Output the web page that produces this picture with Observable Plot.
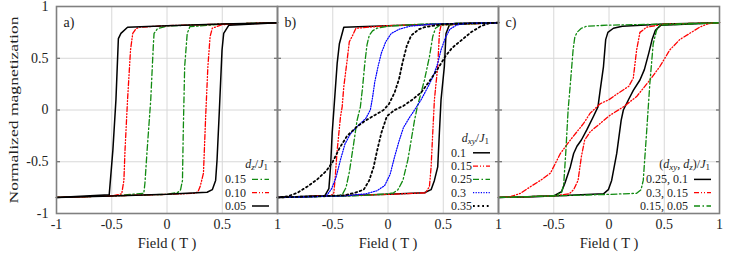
<!DOCTYPE html>
<html><head><meta charset="utf-8">
<script src="https://cdn.jsdelivr.net/npm/d3@7"></script>
<script src="https://cdn.jsdelivr.net/npm/@observablehq/plot@0.6"></script>
<style>
body{margin:0;background:#fff}
</style></head><body><div id="chart"></div>
<script>
// ---------- data (field H in T, normalized magnetization M) ----------
const panels = ["a", "b", "c"];
const panelLabels = ["a)", "b)", "c)"];
const xTicksFirst = [-1, -0.5, 0, 0.5, 1];
const xTickLabelsFirst = ["-1", "-0.5", "0", "0.5", "1"];
const xTicksOther = [-0.5, 0, 0.5, 1];
const xTickLabelsOther = ["-0.5", "0", "0.5", "1"];
const yTicks = [-1, -0.5, 0, 0.5, 1];
const yTickLabels = ["-1", "-0.5", "0", "0.5", "1"];
const xLabel = "Field ( T )";
const yLabel = "Normalized magnetization";

// panel a) : d_z / J_1
const legendA = ["0.15", "0.10", "0.05"];
const aGreenDown = [[1,0.843],[0.5,0.83],[0,0.812],[-0.087,0.785],[-0.117,0.74],[-0.123,0.64],[-0.147,0.10],[-0.18,-0.39],[-0.20,-0.71],[-0.21,-0.805],[-0.5,-0.83],[-1,-0.845]];
const aGreenUp   = [[-1,-0.845],[-0.5,-0.83],[0,-0.815],[0.1,-0.795],[0.123,-0.77],[0.14,-0.68],[0.147,-0.22],[0.16,0.42],[0.183,0.74],[0.207,0.805],[0.5,0.83],[1,0.843]];
const aRedDown   = [[1,0.843],[0.5,0.83],[0,0.815],[-0.25,0.80],[-0.28,0.785],[-0.31,0.74],[-0.33,0.58],[-0.357,0.10],[-0.38,-0.39],[-0.39,-0.68],[-0.41,-0.81],[-0.5,-0.83],[-1,-0.845]];
const aRedUp     = [[-1,-0.845],[-0.5,-0.83],[0,-0.815],[0.25,-0.805],[0.28,-0.79],[0.30,-0.74],[0.33,-0.61],[0.35,-0.06],[0.37,0.42],[0.39,0.71],[0.41,0.79],[0.5,0.825],[1,0.843]];
const aBlackDown = [[1,0.843],[0.5,0.83],[0,0.815],[-0.357,0.80],[-0.417,0.74],[-0.44,0.69],[-0.462,0.10],[-0.49,-0.39],[-0.523,-0.82],[-1,-0.845]];
const aBlackUp   = [[-1,-0.845],[-0.5,-0.83],[0,-0.815],[0.363,-0.795],[0.41,-0.77],[0.44,-0.68],[0.453,-0.48],[0.474,0],[0.498,0.58],[0.513,0.74],[0.56,0.82],[1,0.843]];

// panel b) : d_xy / J_1
const legendB = ["0.1", "0.15", "0.25", "0.3", "0.35"];
const bBlackDown = [[1,0.843],[0.5,0.83],[0,0.815],[-0.40,0.80],[-0.44,0.64],[-0.46,0.45],[-0.49,0.0],[-0.505,-0.22],[-0.52,-0.55],[-0.535,-0.76],[-0.57,-0.825],[-1,-0.845]];
const bBlackUp   = [[-1,-0.845],[-0.5,-0.83],[0,-0.815],[0.33,-0.80],[0.39,-0.77],[0.42,-0.68],[0.45,-0.55],[0.465,-0.22],[0.48,0.1],[0.51,0.42],[0.525,0.74],[0.555,0.82],[0.6,0.835],[1,0.843]];
const bRedDown   = [[1,0.843],[0.5,0.83],[0,0.815],[-0.29,0.79],[-0.325,0.71],[-0.35,0.66],[-0.37,0.48],[-0.40,0.225],[-0.415,0.03],[-0.43,-0.065],[-0.46,-0.39],[-0.48,-0.68],[-0.49,-0.80],[-0.52,-0.83],[-1,-0.845]];
const bRedUp     = [[-1,-0.845],[-0.5,-0.83],[0,-0.815],[0.34,-0.80],[0.375,-0.74],[0.39,-0.55],[0.405,-0.22],[0.42,0.1],[0.45,0.42],[0.465,0.74],[0.48,0.82],[1,0.843]];
const bGreenDown = [[1,0.843],[0.3,0.83],[0,0.81],[-0.1,0.79],[-0.14,0.765],[-0.17,0.72],[-0.19,0.63],[-0.21,0.45],[-0.23,0.22],[-0.25,0.03],[-0.28,-0.1],[-0.31,-0.32],[-0.35,-0.6],[-0.38,-0.75],[-0.41,-0.81],[-0.45,-0.83],[-1,-0.845]];
const bGreenUp   = [[-1,-0.845],[-0.3,-0.83],[0,-0.81],[0.05,-0.8],[0.09,-0.77],[0.135,-0.68],[0.18,-0.48],[0.21,-0.29],[0.24,-0.1],[0.265,0.03],[0.29,0.13],[0.33,0.29],[0.375,0.515],[0.405,0.71],[0.43,0.79],[0.47,0.82],[1,0.843]];
const bBlueDown  = [[1,0.843],[0.4,0.83],[0.2,0.81],[0.1,0.78],[0.03,0.74],[-0.02,0.66],[-0.06,0.55],[-0.09,0.42],[-0.12,0.27],[-0.14,0.12],[-0.16,0.0],[-0.2,-0.08],[-0.27,-0.15],[-0.34,-0.23],[-0.39,-0.33],[-0.43,-0.48],[-0.47,-0.65],[-0.51,-0.76],[-0.55,-0.82],[-0.6,-0.835],[-1,-0.845]];
const bBlueUp    = [[-1,-0.845],[-0.4,-0.83],[-0.2,-0.81],[-0.1,-0.78],[-0.03,-0.73],[0.02,-0.62],[0.06,-0.45],[0.1,-0.3],[0.14,-0.17],[0.19,-0.08],[0.24,0.0],[0.3,0.1],[0.36,0.22],[0.41,0.33],[0.45,0.45],[0.48,0.58],[0.52,0.7],[0.56,0.78],[0.62,0.82],[0.7,0.835],[1,0.843]];
const bDotDown   = [[1,0.843],[0.5,0.83],[0.33,0.80],[0.28,0.78],[0.21,0.72],[0.17,0.62],[0.13,0.45],[0.1,0.3],[0.06,0.17],[0.01,0.06],[-0.04,0.0],[-0.12,-0.05],[-0.2,-0.1],[-0.28,-0.16],[-0.37,-0.25],[-0.44,-0.37],[-0.5,-0.5],[-0.56,-0.59],[-0.64,-0.67],[-0.73,-0.74],[-0.82,-0.80],[-0.91,-0.835],[-1,-0.845]];
const bDotUp     = [[-1,-0.845],[-0.4,-0.825],[-0.3,-0.80],[-0.22,-0.77],[-0.17,-0.68],[-0.13,-0.55],[-0.1,-0.4],[-0.06,-0.22],[-0.01,-0.06],[0.06,0.0],[0.14,0.04],[0.22,0.1],[0.3,0.17],[0.37,0.27],[0.44,0.38],[0.52,0.52],[0.58,0.6],[0.66,0.67],[0.75,0.75],[0.84,0.81],[0.92,0.84],[1,0.845]];

// panel c) : (d_xy, d_z) / J_1
const legendC = ["0.25, 0.1", "0.3, 0.15", "0.15, 0.05"];
const cBlackDown = [[1,0.843],[0.5,0.83],[0.12,0.81],[0.04,0.79],[-0.01,0.75],[-0.03,0.68],[-0.05,0.42],[-0.08,0.19],[-0.1,0.03],[-0.14,-0.06],[-0.2,-0.19],[-0.25,-0.29],[-0.29,-0.35],[-0.32,-0.42],[-0.35,-0.55],[-0.40,-0.71],[-0.43,-0.79],[-0.5,-0.83],[-1,-0.845]];
const cBlackUp   = [[-1,-0.845],[-0.5,-0.83],[-0.05,-0.81],[-0.006,-0.77],[0.024,-0.68],[0.07,-0.42],[0.11,-0.1],[0.13,0.0],[0.175,0.097],[0.22,0.19],[0.28,0.29],[0.32,0.39],[0.36,0.55],[0.39,0.68],[0.42,0.77],[0.47,0.82],[1,0.843]];
const cRedDown   = [[1,0.843],[0.5,0.83],[0.34,0.80],[0.28,0.75],[0.25,0.58],[0.22,0.31],[0.18,0.23],[0.08,0.16],[0,0.1],[-0.08,0.06],[-0.17,-0.03],[-0.23,-0.13],[-0.35,-0.29],[-0.44,-0.42],[-0.53,-0.61],[-0.62,-0.68],[-0.71,-0.74],[-0.80,-0.805],[-0.9,-0.84],[-1,-0.845]];
const cRedUp     = [[-1,-0.845],[-0.5,-0.83],[-0.36,-0.81],[-0.32,-0.77],[-0.28,-0.68],[-0.25,-0.45],[-0.22,-0.29],[-0.17,-0.21],[-0.08,-0.13],[0.01,-0.05],[0.13,0.03],[0.25,0.13],[0.37,0.29],[0.46,0.42],[0.55,0.58],[0.64,0.68],[0.73,0.74],[0.82,0.80],[0.9,0.835],[1,0.843]];
const cGreenDown = [[1,0.843],[0.5,0.83],[0,0.82],[-0.2,0.81],[-0.25,0.79],[-0.29,0.75],[-0.31,0.70],[-0.325,0.58],[-0.35,0.25],[-0.37,0.0],[-0.39,-0.39],[-0.41,-0.72],[-0.43,-0.80],[-0.5,-0.83],[-1,-0.845]];
const cGreenUp   = [[-1,-0.845],[-0.5,-0.83],[0,-0.815],[0.25,-0.805],[0.29,-0.77],[0.31,-0.68],[0.34,-0.22],[0.37,0.26],[0.40,0.64],[0.43,0.77],[0.46,0.82],[1,0.843]];

// ---------- styles ----------
const styles = {
  solid:      {stroke: "#000000", strokeWidth: 1.5},
  dashDotDot: {stroke: "#ff0000", strokeWidth: 1.3, strokeDasharray: "5,2,1,2,1,2"},
  dashDot:    {stroke: "#108a10", strokeWidth: 1.3, strokeDasharray: "6,2.5,1.5,2.5"},
  fineDot:    {stroke: "#0000ff", strokeWidth: 1.2, strokeDasharray: "1.2,1.4"},
  coarseDot:  {stroke: "#000000", strokeWidth: 1.8, strokeDasharray: "1.8,2.8"}
};

const curves = [
  {panel: "a", label: legendA[0], style: "dashDot",    down: aGreenDown, up: aGreenUp},
  {panel: "a", label: legendA[1], style: "dashDotDot", down: aRedDown,   up: aRedUp},
  {panel: "a", label: legendA[2], style: "solid",      down: aBlackDown, up: aBlackUp},
  {panel: "b", label: legendB[0], style: "solid",      down: bBlackDown, up: bBlackUp},
  {panel: "b", label: legendB[1], style: "dashDotDot", down: bRedDown,   up: bRedUp},
  {panel: "b", label: legendB[2], style: "dashDot",    down: bGreenDown, up: bGreenUp},
  {panel: "b", label: legendB[3], style: "fineDot",    down: bBlueDown,  up: bBlueUp},
  {panel: "b", label: legendB[4], style: "coarseDot",  down: bDotDown,   up: bDotUp},
  {panel: "c", label: legendC[0], style: "solid",      down: cBlackDown, up: cBlackUp},
  {panel: "c", label: legendC[1], style: "dashDotDot", down: cRedDown,   up: cRedUp},
  {panel: "c", label: legendC[2], style: "dashDot",    down: cGreenDown, up: cGreenUp}
];

const legendTitles = {
  a: [{t: "d", i: 1}, {t: "z", i: 1, s: 1}, {t: "/"}, {t: "J", i: 1}, {t: "1", s: 1}],
  b: [{t: "d", i: 1}, {t: "xy", i: 1, s: 1}, {t: "/"}, {t: "J", i: 1}, {t: "1", s: 1}],
  c: [{t: "("}, {t: "d", i: 1}, {t: "xy", i: 1, s: 1}, {t: ", "}, {t: "d", i: 1}, {t: "z", i: 1, s: 1}, {t: ")/"}, {t: "J", i: 1}, {t: "1", s: 1}]
};

// ---------- tables ----------
const rows = curves.flatMap(c => [["down", c.down], ["up", c.up]].flatMap(([branch, pts]) =>
  pts.map(([h, m]) => ({panel: c.panel, label: c.label, branch, h, m}))));
const panelRows = panels.map((p, i) => ({panel: p, label: panelLabels[i]}));
const xTickRows = panels.flatMap(p => (p === "a" ? xTicksFirst : xTicksOther).map((v, i) =>
  ({panel: p, v, label: (p === "a" ? xTickLabelsFirst : xTickLabelsOther)[i]})));
const yTickRows = yTicks.map((v, i) => ({panel: "a", v, label: yTickLabels[i]}));

const FONT = "'Liberation Serif', 'DejaVu Serif', serif";
const W = 739, H = 255;
const chart = Plot.plot({
  width: W, height: H,
  marginLeft: 55, marginRight: 19, marginTop: 6, marginBottom: 42,
  style: {fontFamily: FONT, background: "#fff", color: "#222"},
  x: {domain: [-1, 1], axis: null},
  y: {domain: [-1, 1], axis: null},
  fx: {domain: panels, padding: 0, axis: null},
  marks: [
    Plot.gridX(xTicksFirst, {stroke: "#d8d8d8", strokeOpacity: 1, strokeWidth: 1}),
    Plot.gridY(yTicks, {stroke: "#d8d8d8", strokeOpacity: 1, strokeWidth: 1}),
    ...curves.map(c => Plot.line(rows.filter(r => r.panel === c.panel && r.label === c.label),
      {x: "h", y: "m", z: "branch", fx: "panel", ...styles[c.style]})),
    Plot.axisY(yTicks, {anchor: "left", tickSize: -4, text: null, label: null, facetAnchor: null, stroke: "#555"}),
    Plot.axisY(yTicks, {anchor: "right", tickSize: -4, text: null, label: null, facetAnchor: null, stroke: "#555"}),
    Plot.frame({stroke: "#808080", strokeWidth: 1.6}),
    Plot.text(panelRows, {fx: "panel", text: "label", frameAnchor: "top-left", dx: 7, dy: 11, textAnchor: "start", fontSize: 14, fill: "#222"}),
    Plot.text(xTickRows, {fx: "panel", x: "v", text: "label", frameAnchor: "bottom", dy: 15, fontSize: 14, fill: "#222"}),
    Plot.text(yTickRows, {fx: "panel", y: "v", text: "label", frameAnchor: "left", dx: -8, textAnchor: "end", fontSize: 14, fill: "#222"}),
    Plot.text(panelRows, {fx: "panel", text: () => xLabel, frameAnchor: "bottom", dy: 34, fontSize: 14.5, fill: "#222", className: "xlabel"}),
    Plot.text([{panel: "a"}], {fx: "panel", text: () => yLabel, frameAnchor: "left", rotate: -90, dx: -43, fontSize: 13.5, fill: "#222", className: "ylabel"})
  ]
});
document.getElementById("chart").appendChild(chart);

// stretch the y title to the reference length (anchored at its start)
d3.select(chart).selectAll(".ylabel text")
  .attr("text-anchor", "start").attr("x", -93.5)
  .attr("textLength", 187).attr("lengthAdjust", "spacingAndGlyphs");

// ---------- in-panel keys ----------
const fx = chart.scale("fx"), ys = chart.scale("y");
const bottom = ys.apply(-1);
const svg = d3.select(chart);
const legendOf = {a: legendA, b: legendB, c: legendC};
const alignOf = {a: "end", b: "start", c: "end"};
for (const p of panels) {
  const R = fx.apply(p) + fx.bandwidth;
  const items = curves.filter(c => c.panel === p);
  const n = legendOf[p].length;
  const g = svg.append("g").attr("font-size", 12).attr("fill", "#222").attr("font-family", FONT);
  items.forEach((c, i) => {
    const yy = bottom - 7 - (n - 1 - i) * 13.3;
    const st = styles[c.style];
    g.append("line").attr("x1", R - 25).attr("x2", R - 8).attr("y1", yy).attr("y2", yy)
      .attr("stroke", st.stroke).attr("stroke-width", st.strokeWidth)
      .attr("stroke-dasharray", st.strokeDasharray || null);
    g.append("text").attr("x", alignOf[p] === "end" ? R - 31 : R - 47).attr("y", yy).attr("dy", "0.32em")
      .attr("text-anchor", alignOf[p]).text(c.label);
  });
  const ty = bottom - 7 - (n - 1) * 13.3 - 15;
  const t = g.append("text").attr("x", R - 9).attr("y", ty).attr("dy", "0.32em").attr("text-anchor", "end");
  for (const seg of legendTitles[p]) {
    const ts = t.append("tspan").text(seg.t);
    if (seg.i) ts.attr("font-style", "italic");
    if (seg.s) ts.attr("font-size", 9).attr("baseline-shift", "-20%");
  }
}
</script></body></html>
